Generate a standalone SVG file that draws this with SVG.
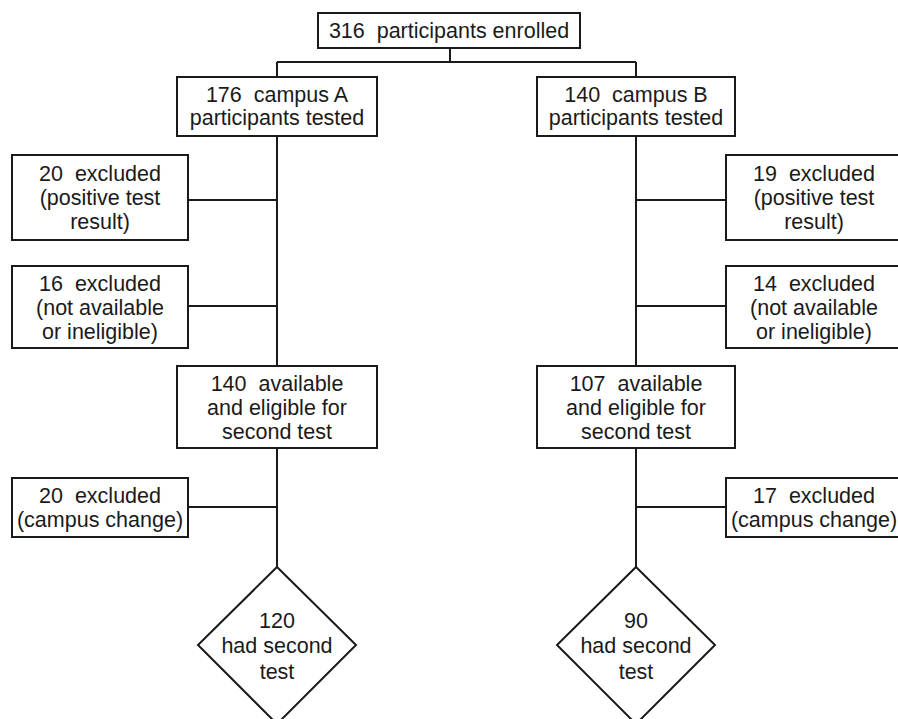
<svg xmlns="http://www.w3.org/2000/svg" width="898" height="719" viewBox="0 0 898 719">
<style>
.box{fill:#fff;stroke:#1a1a1a;stroke-width:2}
.ln{stroke:#1a1a1a;stroke-width:2;fill:none}
text{font-family:"Liberation Sans",Arial,sans-serif;font-size:21.5px;fill:#1a1a1a;text-anchor:middle;white-space:pre}
</style>
<rect width="898" height="719" fill="#fff"/>
<g id="connectors">
<path class="ln" d="M450 48V62M277 62H636M277 62V77M636 62V77"/>
<path class="ln" d="M277 136V567M636 136V567"/>
<path class="ln" d="M188 200H277M188 306H277M188 507H277"/>
<path class="ln" d="M636 200H726M636 306H726M636 507H726"/>
</g>
<g id="enrolled"><rect class="box" x="318" y="13" width="262" height="35"/><text x="449" y="38" xml:space="preserve">316  participants enrolled</text></g>
<g id="campusA"><rect class="box" x="177" y="77" width="200" height="59"/><text x="277" y="102" xml:space="preserve">176  campus A</text><text x="277" y="125">participants tested</text></g>
<g id="campusB"><rect class="box" x="537" y="77" width="198" height="59"/><text x="636" y="102" xml:space="preserve">140  campus B</text><text x="636" y="125">participants tested</text></g>
<g id="exA1"><rect class="box" x="12" y="155" width="176" height="85"/><text x="100" y="181" xml:space="preserve">20  excluded</text><text x="100" y="205">(positive test</text><text x="100" y="229">result)</text></g>
<g id="exA2"><rect class="box" x="12" y="266" width="176" height="82"/><text x="100" y="291" xml:space="preserve">16  excluded</text><text x="100" y="315">(not available</text><text x="100" y="339">or ineligible)</text></g>
<g id="exB1"><rect class="box" x="726" y="155" width="176" height="85"/><text x="814" y="181" xml:space="preserve">19  excluded</text><text x="814" y="205">(positive test</text><text x="814" y="229">result)</text></g>
<g id="exB2"><rect class="box" x="726" y="266" width="176" height="82"/><text x="814" y="291" xml:space="preserve">14  excluded</text><text x="814" y="315">(not available</text><text x="814" y="339">or ineligible)</text></g>
<g id="availA"><rect class="box" x="177" y="366" width="200" height="82"/><text x="277" y="391" xml:space="preserve">140  available</text><text x="277" y="415">and eligible for</text><text x="277" y="439">second test</text></g>
<g id="availB"><rect class="box" x="537" y="366" width="198" height="82"/><text x="636" y="391" xml:space="preserve">107  available</text><text x="636" y="415">and eligible for</text><text x="636" y="439">second test</text></g>
<g id="exA3"><rect class="box" x="12" y="478" width="176" height="59"/><text x="100" y="503" xml:space="preserve">20  excluded</text><text x="100" y="527">(campus change)</text></g>
<g id="exB3"><rect class="box" x="726" y="478" width="176" height="59"/><text x="814" y="503" xml:space="preserve">17  excluded</text><text x="814" y="527">(campus change)</text></g>
<g id="secondA"><polygon class="box" points="277,567 356,645 277,724 198,645"/><text x="277" y="628">120</text><text x="277" y="653">had second</text><text x="277" y="679">test</text></g>
<g id="secondB"><polygon class="box" points="636,567 715,645 636,724 557,645"/><text x="636" y="628">90</text><text x="636" y="653">had second</text><text x="636" y="679">test</text></g>
</svg>
